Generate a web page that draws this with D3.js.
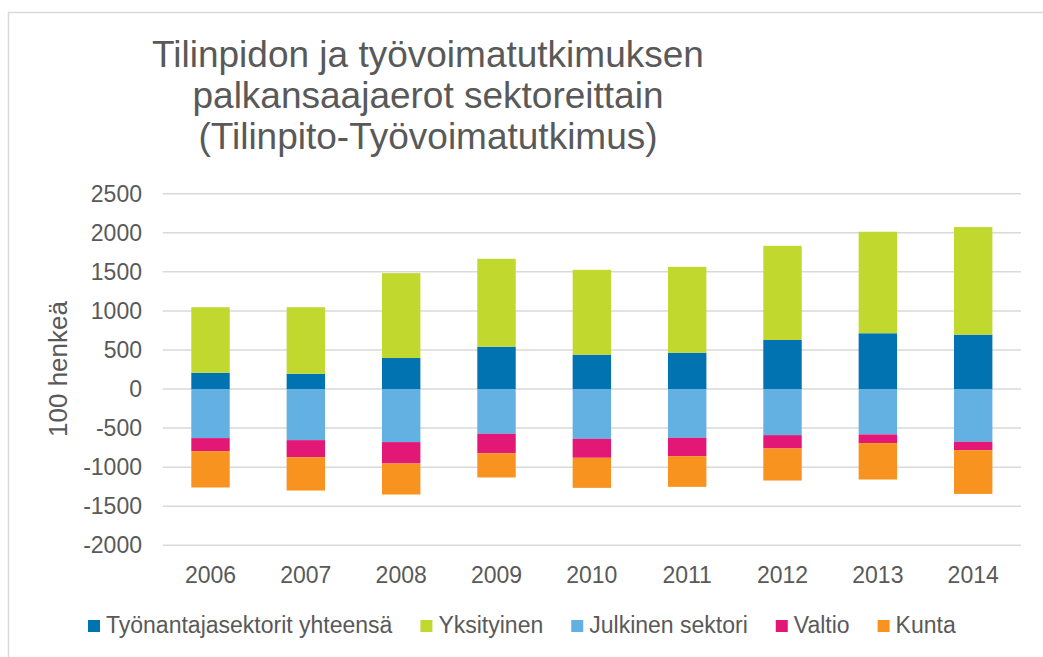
<!DOCTYPE html>
<html>
<head>
<meta charset="utf-8">
<script src="https://cdn.jsdelivr.net/npm/d3@7"></script>
<style>
  body { margin:0; background:#ffffff; }
  svg text { font-family:"Liberation Sans", Arial, sans-serif; fill:#595959; }
</style>
</head>
<body>
<div id="chart"></div>
<script>
var years = ["2006","2007","2008","2009","2010","2011","2012","2013","2014"];

// values in 100 persons
var tyonantaja = [209, 196, 397, 542, 440, 465, 628, 714, 696];
var yksityinen = [838, 851, 1086, 1125, 1086, 1099, 1205, 1299, 1377];
var julkinen   = [-628, -654, -679, -573, -637, -624, -590, -581, -675];
var valtio     = [-167, -218, -274, -248, -243, -235, -171, -111, -107];
var kunta      = [-465, -427, -397, -311, -385, -393, -410, -466, -560];

var yTicks = [-2000, -1500, -1000, -500, 0, 500, 1000, 1500, 2000, 2500];

var series = [
  {id:"tyonantaja", label:"Työnantajasektorit yhteensä", colour:"#0173b1", values:tyonantaja},
  {id:"yksityinen", label:"Yksityinen", colour:"#c1d82f", values:yksityinen},
  {id:"julkinen", label:"Julkinen sektori", colour:"#63b0e3", values:julkinen},
  {id:"valtio", label:"Valtio", colour:"#e31776", values:valtio},
  {id:"kunta", label:"Kunta", colour:"#f7931e", values:kunta}
];

var titleLines = ["Tilinpidon ja työvoimatutkimuksen", "palkansaajaerot sektoreittain", "(Tilinpito-Työvoimatutkimus)"];

var W = 1043, H = 657;
var svg = d3.select("#chart").append("svg")
  .attr("width", W)
  .attr("height", H);

// chart border
svg.append("rect")
  .attr("x", 8.5).attr("y", 12.5)
  .attr("width", W).attr("height", H)
  .attr("fill", "none")
  .attr("stroke", "#d9d9d9")
  .attr("stroke-width", 1.5);

// table for stacking
var table = years.map(function(y, i) {
  var row = {year:y};
  series.forEach(function(s) { row[s.id] = s.values[i]; });
  return row;
});

var stack = d3.stack()
  .keys(series.map(function(s) { return s.id; }))
  .offset(d3.stackOffsetDiverging);
var stacked = stack(table);

var x = d3.scaleBand()
  .domain(years)
  .range([162.7, 1021])
  .paddingInner(0.597)
  .paddingOuter(0.3);

var y = d3.scaleLinear()
  .domain([-2000, 2500])
  .range([545.3, 193.7]);

// gridlines
svg.append("g")
  .selectAll("line")
  .data(yTicks)
  .enter()
  .append("line")
  .attr("x1", 162.7)
  .attr("x2", 1021)
  .attr("y1", function(d) { return y(d); })
  .attr("y2", function(d) { return y(d); })
  .attr("stroke", "#d9d9d9")
  .attr("stroke-width", 1.5);

// y tick labels
svg.append("g")
  .selectAll("text")
  .data(yTicks)
  .enter()
  .append("text")
  .attr("x", 142)
  .attr("y", function(d) { return y(d) + 8; })
  .attr("text-anchor", "end")
  .style("font-size", "23px")
  .text(function(d) { return d; });

// bars
svg.append("g")
  .selectAll("g")
  .data(stacked)
  .enter()
  .append("g")
  .attr("fill", function(d, i) { return series[i].colour; })
  .selectAll("rect")
  .data(function(d) { return d; })
  .enter()
  .append("rect")
  .attr("x", function(d) { return x(d.data.year); })
  .attr("width", x.bandwidth())
  .attr("y", function(d) { return y(Math.max(d[0], d[1])); })
  .attr("height", function(d) { return Math.abs(y(d[0]) - y(d[1])); });

// x tick labels
svg.append("g")
  .selectAll("text")
  .data(years)
  .enter()
  .append("text")
  .attr("x", function(d) { return x(d) + x.bandwidth() / 2; })
  .attr("y", 583)
  .attr("text-anchor", "middle")
  .style("font-size", "23px")
  .text(function(d) { return d; });

// y axis title
svg.append("text")
  .attr("transform", "translate(67,369) rotate(-90)")
  .attr("text-anchor", "middle")
  .style("font-size", "26px")
  .text("100 henkeä");

// chart title
svg.append("g")
  .selectAll("text")
  .data(titleLines)
  .enter()
  .append("text")
  .attr("x", 428)
  .attr("y", function(d, i) { return 67 + i * 41; })
  .attr("text-anchor", "middle")
  .style("font-size", "37px")
  .text(function(d) { return d; });

// legend
var legend = svg.append("g");
var lx = 88;
series.forEach(function(s) {
  var item = legend.append("g").attr("transform", "translate(" + lx + ",620)");
  item.append("rect")
    .attr("width", 12).attr("height", 12)
    .attr("fill", s.colour);
  var t = item.append("text")
    .attr("x", 18)
    .attr("y", 12.5)
    .style("font-size", "23px")
    .text(s.label);
  lx += 18 + t.node().getComputedTextLength() + 28;
});
</script>
</body>
</html>
